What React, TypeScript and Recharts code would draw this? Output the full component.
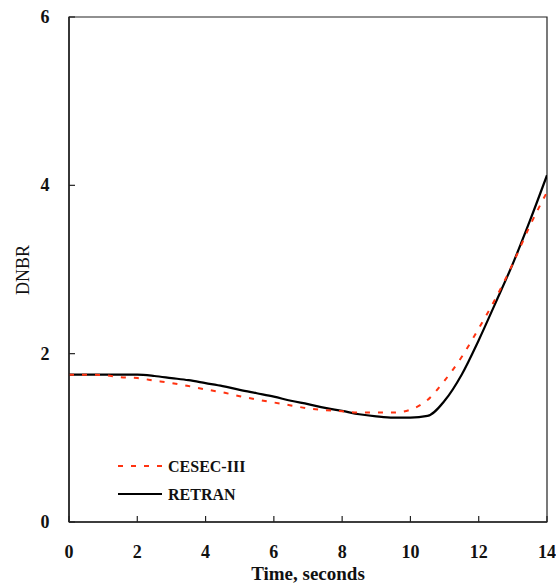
import { Label, Legend, Line, LineChart, ReferenceArea, XAxis, YAxis } from "recharts";

const time = [0, 0.5, 1, 1.5, 2, 2.5, 3, 3.5, 4, 4.5, 5, 5.5, 6, 6.5, 7, 7.5, 8, 8.5, 9, 9.5, 10, 10.5, 11, 11.5, 12, 12.5, 13, 13.5, 14];

const retran = [
  1.75, 1.75, 1.75, 1.75, 1.75, 1.735, 1.71, 1.685, 1.65, 1.615, 1.57, 1.53, 1.49, 1.44, 1.4, 1.355, 1.32, 1.28, 1.255,
  1.24, 1.24, 1.26, 1.44, 1.75, 2.16, 2.61, 3.07, 3.58, 4.12,
];

const cesec = [
  1.75, 1.75, 1.745, 1.72, 1.71, 1.68, 1.65, 1.615, 1.575, 1.54, 1.495, 1.455, 1.42, 1.385, 1.35, 1.33, 1.315, 1.3, 1.3,
  1.3, 1.335, 1.45, 1.68, 1.96, 2.3, 2.66, 3.07, 3.52, 3.92,
];

const xTicks = [0, 2, 4, 6, 8, 10, 12, 14];
const yTicks = [0, 2, 4, 6];

const data = time.map((t, i) => ({ t, cesec: cesec[i], retran: retran[i] }));

const FONT = "Liberation Serif";
const RED = "#ff3311";
const DASH = "5 8";
const txt = { fontFamily: FONT };

function XTick(props: any) {
  return (
    <text x={props.x} y={552} textAnchor="middle" dominantBaseline="central" style={txt} fontWeight="bold" fontSize={18} fill="#111">
      {props.payload.value}
    </text>
  );
}

function YTick(props: any) {
  return (
    <text x={45} y={props.y} textAnchor="middle" dominantBaseline="central" style={txt} fontWeight="bold" fontSize={18} fill="#111">
      {props.payload.value}
    </text>
  );
}

function LegendBox() {
  return (
    <svg width={200} height={60}>
      <line x1={0} x2={44} y1={12} y2={12} stroke={RED} strokeWidth={2} strokeDasharray={DASH} />
      <text x={50} y={12} dominantBaseline="central" style={txt} fontWeight="bold" fontSize={16} fill="#111">
        CESEC-III
      </text>
      <line x1={0} x2={44} y1={40} y2={40} stroke="#000" strokeWidth={2} />
      <text x={50} y={40} dominantBaseline="central" style={txt} fontWeight="bold" fontSize={16} fill="#111">
        RETRAN
      </text>
    </svg>
  );
}

export default function App() {
  return (
    <div style={{ position: "absolute", left: 0, top: 0, width: 556, height: 585, background: "#fff", fontFamily: FONT }}>
      <LineChart width={556} height={585} data={data} margin={{ top: 17, right: 9, left: 0, bottom: 0 }}>
        <ReferenceArea x1={0} x2={14} y1={0} y2={6} fill="none" stroke="#222" strokeWidth={1.2} ifOverflow="visible" />
        <XAxis
          dataKey="t"
          type="number"
          domain={[0, 14]}
          ticks={xTicks}
          height={63}
          tickSize={-6}
          tick={<XTick />}
          axisLine={{ stroke: "#222", strokeWidth: 1.5 }}
          tickLine={{ stroke: "#222", strokeWidth: 1.2 }}
          allowDataOverflow
        >
          <Label
            content={() => (
              <text x={308} y={573} textAnchor="middle" dominantBaseline="central" style={txt} fontWeight="bold" fontSize={19} fill="#111">
                Time, seconds
              </text>
            )}
          />
        </XAxis>
        <YAxis
          type="number"
          domain={[0, 6]}
          ticks={yTicks}
          width={69}
          tickSize={-6}
          tick={<YTick />}
          axisLine={{ stroke: "#222", strokeWidth: 1.5 }}
          tickLine={{ stroke: "#222", strokeWidth: 1.2 }}
          allowDataOverflow
        >
          <Label
            content={() => (
              <text x={23} y={270} transform="rotate(-90 23 270)" textAnchor="middle" dominantBaseline="central" style={txt} fontSize={18} fill="#111">
                DNBR
              </text>
            )}
          />
        </YAxis>
        <Line type="monotone" dataKey="retran" stroke="#000" strokeWidth={2.2} dot={false} isAnimationActive={false} />
        <Line type="monotone" dataKey="cesec" stroke={RED} strokeWidth={2} strokeDasharray={DASH} dot={false} isAnimationActive={false} />
        <Legend
          layout="horizontal"
          verticalAlign="middle"
          align="center"
          content={() => <LegendBox />}
          wrapperStyle={{ left: 118, top: 454, width: 200, height: 60 }}
        />
      </LineChart>
    </div>
  );
}
